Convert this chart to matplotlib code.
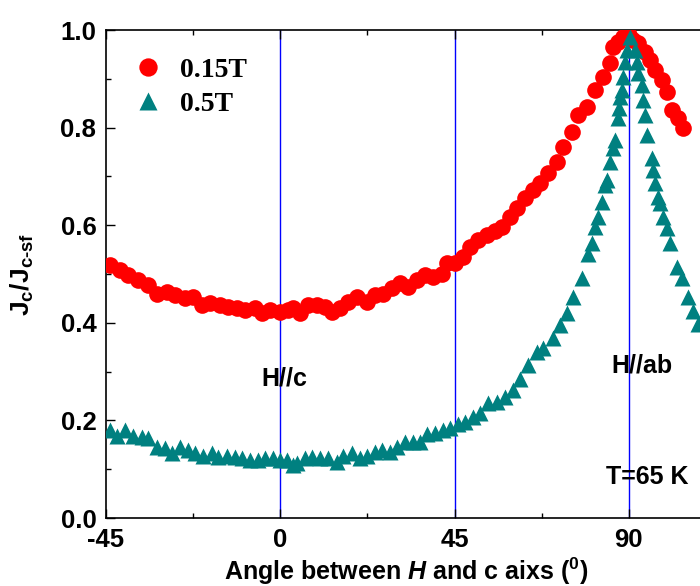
import matplotlib
matplotlib.use("Agg")
import matplotlib.pyplot as plt
from matplotlib.ticker import MultipleLocator

plt.rcParams['font.family'] = ['Liberation Sans', 'DejaVu Sans']
plt.rcParams['font.weight'] = 'bold'
plt.rcParams['mathtext.fontset'] = 'custom'
plt.rcParams['mathtext.rm'] = 'Liberation Sans:bold'
plt.rcParams['mathtext.it'] = 'Liberation Sans:bold:italic'
plt.rcParams['mathtext.bf'] = 'Liberation Sans:bold'

# 0.15 T series (red circles)
angle_015 = [-44, -41.4, -39.3, -36.7, -34.2, -31.8, -29.3, -27.2, -24.6, -22.5,
             -20.2, -18.2, -15.6, -13.5, -11.2, -9.1, -6.5, -4.7, -2.7, 0, 2,
             3.3, 5.1, 7.1, 9.5, 11.5, 13.3, 15.4, 17.5, 19.8, 22.4, 24.4, 26.5,
             28.8, 30.9, 33, 35.3, 37.3, 39.4, 41.7, 43, 45, 47.2, 49, 51, 53.3,
             55.4, 57.2, 59.3, 61.1, 63.2, 65.3, 67, 69.1, 71.4, 73, 75.3, 76.9,
             79.2, 81.2, 83.3, 85.1, 85.9, 87.2, 88.5, 90, 91.2, 92.3, 94.1, 95.4,
             96.7, 98.5, 100, 101.1, 102.7, 104]
jc_015 = [0.518, 0.508, 0.497, 0.487, 0.477, 0.46, 0.463, 0.456, 0.45, 0.452,
          0.436, 0.44, 0.436, 0.432, 0.43, 0.426, 0.43, 0.42, 0.426, 0.422, 0.426,
          0.43, 0.42, 0.436, 0.436, 0.432, 0.422, 0.43, 0.442, 0.452, 0.442, 0.456, 0.46,
          0.471, 0.481, 0.473, 0.487, 0.497, 0.493, 0.501, 0.522, 0.522, 0.534, 0.555, 0.569, 0.579,
          0.589, 0.596, 0.617, 0.635, 0.655, 0.672, 0.686, 0.706, 0.729, 0.76, 0.791, 0.826,
          0.843, 0.877, 0.904, 0.932, 0.965, 0.975, 0.985, 0.99, 0.98, 0.973, 0.955, 0.939,
          0.918, 0.897, 0.873, 0.836, 0.82, 0.80]

# 0.5 T series (teal triangles)
angle_05 = [-44, -42.2, -40.1, -38, -35.7, -34.2, -31.8, -29.8, -28, -25.9, -23.9, -22,
            -20, -17.6, -16.1, -13.8, -11.7, -9.9, -7.8, -5.8, -4, -1.9, 0, 1.7, 3.3,
            4.3, 6.4, 8.2, 10.2, 12.3, 14.6, 16.2, 18.5, 20.6, 22.4, 24.4, 26.2, 28.3,
            30.1, 32.2, 34.2, 36.1, 37.9, 39.9, 42, 43.8, 45.9, 47.7, 49.7, 51.5, 53.6,
            55.9, 58, 60, 62, 64, 66.3, 67.9, 70.5, 72.2, 74, 75.5, 77.9, 79.4, 80.5,
            81.2, 82, 83, 83.8, 84.3, 85.1, 85.9, 86.4, 87.2, 87.5, 87.7, 88.2, 88.5,
            89, 89.5, 90.4, 91.5, 92.1, 92.3, 93.4, 93.6, 94.1, 94.6, 95.9, 96.2, 96.7,
            97.5, 98, 98.8, 99.8, 100.6, 102.4, 103.7, 105.2, 106.5, 107.8]
jc_05 = [0.18, 0.169, 0.18, 0.169, 0.165, 0.163, 0.145, 0.143, 0.133, 0.145, 0.139, 0.133,
         0.128, 0.133, 0.125, 0.128, 0.125, 0.122, 0.118, 0.118, 0.122, 0.122, 0.118, 0.118, 0.108,
         0.112, 0.122, 0.125, 0.122, 0.122, 0.114, 0.128, 0.133, 0.122, 0.128, 0.135, 0.139, 0.135,
         0.145, 0.155, 0.155, 0.155, 0.173, 0.175, 0.18, 0.184, 0.193, 0.196, 0.206, 0.216, 0.235,
         0.237, 0.247, 0.262, 0.285, 0.313, 0.34, 0.348, 0.368, 0.395, 0.421, 0.452, 0.491, 0.542, 0.563,
         0.596, 0.617, 0.648, 0.683, 0.692, 0.729, 0.758, 0.774, 0.82, 0.84, 0.863, 0.877, 0.904,
         0.935, 0.959, 0.986, 0.959, 0.935, 0.912, 0.887, 0.856, 0.826, 0.785, 0.738, 0.713, 0.686,
         0.658, 0.645, 0.617, 0.594, 0.563, 0.514, 0.491, 0.452, 0.425, 0.398]

ref_angles = [0, 45, 90]
x_ticks = [-45, 0, 45, 90]

fig = plt.figure(figsize=(7.0, 5.86), dpi=100)
ax = fig.add_axes([106/700, 68/586, 697/700, 488/586])

for a in ref_angles:
    ax.axvline(a, color='#0000ff', lw=1.0, zorder=1)

ax.plot(angle_015, jc_015, 'o', color='#ff0000', markersize=12, mec='none',
        label='0.15T', zorder=3)
ax.plot(angle_05, jc_05, '^', color='#008080', markersize=11.5, mec='none',
        label='0.5T', zorder=4)

ax.set_xlim(-45, 135)
ax.set_ylim(0, 1.0)
ax.set_xticks(x_ticks)
ax.set_xticklabels(['-45', '0', '45', '90'])
ax.xaxis.set_minor_locator(MultipleLocator(22.5))
ax.set_yticks([0, 0.2, 0.4, 0.6, 0.8, 1.0])
ax.set_yticklabels(['0.0', '0.2', '0.4', '0.6', '0.8', '1.0'])
ax.yaxis.set_minor_locator(MultipleLocator(0.1))

ax.tick_params(which='both', direction='in', top=True, right=True, width=1.0,
               labelsize=18.5, pad=7)
ax.tick_params(which='major', length=6.5)
ax.tick_params(which='minor', length=3.5)
for lab in ax.get_xticklabels() + ax.get_yticklabels():
    lab.set_fontweight('bold')
for s in ax.spines.values():
    s.set_linewidth(1.2)

ax.set_xlabel('Angle between $\\mathit{H}$ and c aixs ($^{0}$)', fontsize=18,
              fontweight='bold', labelpad=4)
ax.xaxis.set_label_coords(0.43, -0.078)
ax.set_ylabel('J$_{\\mathrm{c}}$/J$_{\\mathrm{c\\text{-}sf}}$', fontsize=19,
              fontweight='bold')
ax.yaxis.set_label_coords(-0.1, 0.5)

ax.text(1, 0.286, 'H//c', fontsize=18, fontweight='bold', ha='center', va='center')
ax.text(93.4, 0.313, 'H//ab', fontsize=18, fontweight='bold', ha='center', va='center')
ax.text(84, 0.083, 'T=65 K', fontsize=18, fontweight='bold', ha='left', va='center')

leg = ax.legend(loc='upper left', bbox_to_anchor=(-0.006, 0.995), frameon=False,
                prop={'family': 'Liberation Serif', 'weight': 'bold', 'size': 20},
                markerscale=1.1, handletextpad=0.4, labelspacing=0.32,
                handlelength=1.5)

fig.savefig('out.png', dpi=100)
